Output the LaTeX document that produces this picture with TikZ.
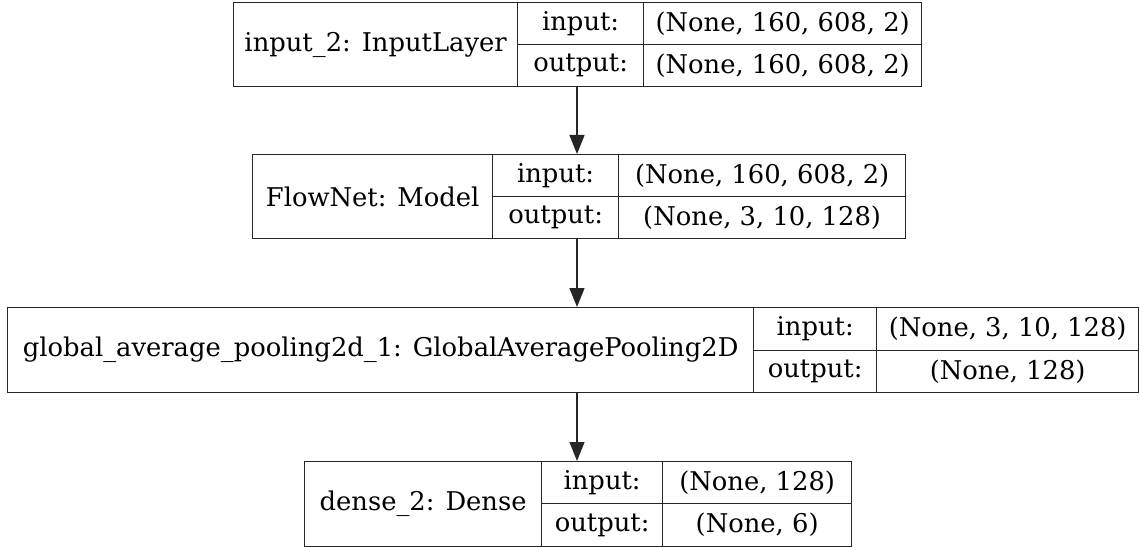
\documentclass[tikz,border=0pt]{standalone}
\usepackage{fontspec}
\setmainfont{DejaVu Serif}
\usetikzlibrary{arrows.meta}
\tikzset{
  cell/.style={draw=black!85, line width=1.3pt, inner sep=0pt, anchor=north west,
    font=\fontsize{25.8}{30}\selectfont},
  conn/.style={draw=black!85, line width=1.3pt, -{Triangle[length=19pt,width=15pt]}},
}
\begin{document}
\begin{tikzpicture}[x=1pt,y=-1pt]
\useasboundingbox (0,0) rectangle (1140,548);
% layer 1
\node[cell, minimum width=284pt, minimum height=84pt] (n1) at (233,2) {input\_2: InputLayer};
\node[cell, minimum width=126pt, minimum height=42pt] (i1) at (517,2) {input:};
\node[cell, minimum width=126pt, minimum height=42pt] (o1) at (517,44) {output:};
\node[cell, minimum width=278pt, minimum height=42pt] (iv1) at (643,2) {(None, 160, 608, 2)};
\node[cell, minimum width=278pt, minimum height=42pt] (ov1) at (643,44) {(None, 160, 608, 2)};
% layer 2
\node[cell, minimum width=240pt, minimum height=84pt] (n2) at (252,154) {FlowNet: Model};
\node[cell, minimum width=126pt, minimum height=42pt] (i2) at (492,154) {input:};
\node[cell, minimum width=126pt, minimum height=42pt] (o2) at (492,196) {output:};
\node[cell, minimum width=287pt, minimum height=42pt] (iv2) at (618,154) {(None, 160, 608, 2)};
\node[cell, minimum width=287pt, minimum height=42pt] (ov2) at (618,196) {(None, 3, 10, 128)};
% layer 3
\node[cell, minimum width=746pt, minimum height=85pt] (n3) at (7,307) {global\_average\_pooling2d\_1: GlobalAveragePooling2D};
\node[cell, minimum width=123pt, minimum height=43pt] (i3) at (753,307) {input:};
\node[cell, minimum width=123pt, minimum height=42pt] (o3) at (753,350) {output:};
\node[cell, minimum width=262pt, minimum height=43pt] (iv3) at (876,307) {(None, 3, 10, 128)};
\node[cell, minimum width=262pt, minimum height=42pt] (ov3) at (876,350) {(None, 128)};
% layer 4
\node[cell, minimum width=237pt, minimum height=85pt] (n4) at (304,461) {dense\_2: Dense};
\node[cell, minimum width=121pt, minimum height=42pt] (i4) at (541,461) {input:};
\node[cell, minimum width=121pt, minimum height=43pt] (o4) at (541,503) {output:};
\node[cell, minimum width=189pt, minimum height=42pt] (iv4) at (662,461) {(None, 128)};
\node[cell, minimum width=189pt, minimum height=43pt] (ov4) at (662,503) {(None, 6)};
% connectors
\coordinate (ax) at (577,0);
\draw[conn] (o1.south -| ax) -- (i2.north -| ax);
\draw[conn] (n2.south -| ax) -- (n3.north -| ax);
\draw[conn] (n3.south -| ax) -- (n4.north -| ax);
\end{tikzpicture}
\end{document}
